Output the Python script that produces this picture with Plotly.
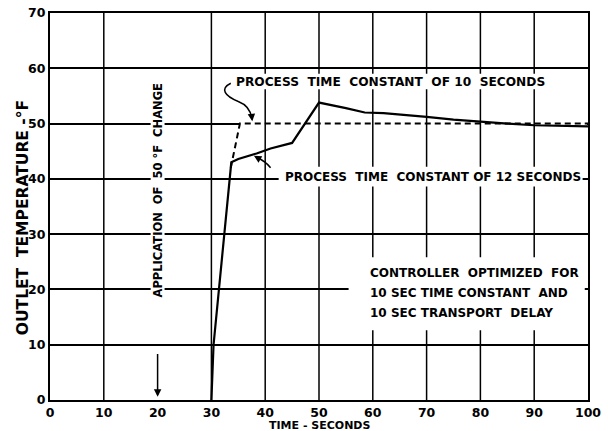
import plotly.graph_objects as go

# Antwort mit Zeitkonstante 12 s (durchgezogen)
time_12s = [30, 30.4, 33.7, 35, 38.4, 41, 45, 50, 55, 58.5, 62, 66, 70, 75, 80, 85, 90, 100]
temp_12s = [0, 10, 43, 43.6, 44.6, 45.5, 46.5, 53.8, 52.8, 52.0, 51.9, 51.6, 51.2, 50.7, 50.3, 50.0, 49.7, 49.5]

# Antwort mit Zeitkonstante 10 s (gestrichelt)
time_10s = [33.6, 35.3, 100]
temp_10s = [42, 50, 50]

x_ticks = [0, 10, 20, 30, 40, 50, 60, 70, 80, 90, 100]
y_ticks = [0, 10, 20, 30, 40, 50, 60, 70]
x_grid = [10, 30, 40, 50, 60, 70, 80, 90]

FONT = "DejaVu Sans"
fig = go.Figure()

fig.add_trace(go.Scatter(x=time_12s, y=temp_12s, mode="lines",
                         line=dict(color="black", width=2.2), showlegend=False))
fig.add_trace(go.Scatter(x=time_10s, y=temp_10s, mode="lines",
                         line=dict(color="black", width=2, dash="6px,4px"), showlegend=False))

# Gitterlinie bei 50 unter der gestrichelten Kurve ausblenden
fig.add_shape(type="rect", x0=time_10s[1], x1=99.8, y0=49.6, y1=50.4, xref="x", yref="y",
              fillcolor="white", line=dict(width=0), layer="between")

# vertikale Gitterlinien (ohne 20, dort steht der Text)
for gx in x_grid:
    fig.add_shape(type="line", x0=gx, x1=gx, y0=0, y1=70, xref="x", yref="y",
                  line=dict(color="black", width=1.5), layer="between")

# weisse Flaechen hinter den Beschriftungen
for x0, x1, y0, y1 in [(33.5, 99, 56.2, 59.0), (42.5, 99, 38.6, 42.2), (55.5, 99.4, 12.6, 25.8),
                       (18.7, 21.3, 19.5, 56.8)]:
    fig.add_shape(type="rect", x0=x0, x1=x1, y0=y0, y1=y1, xref="x", yref="y",
                  fillcolor="white", line=dict(width=0), layer="above")

txt = dict(color="black", family=FONT, size=12, weight="bold")
fig.add_annotation(x=34.2, y=57.6, text="PROCESS  TIME  CONSTANT  OF 10  SECONDS",
                   xanchor="left", yanchor="middle", showarrow=False,
                   font=dict(color="black", family=FONT, size=12.2, weight="bold"))
fig.add_annotation(x=43.3, y=40.4, text="PROCESS  TIME  CONSTANT OF 12 SECONDS",
                   xanchor="left", yanchor="middle", showarrow=False, font=txt)
for i, line in enumerate(["CONTROLLER  OPTIMIZED  FOR", "10 SEC TIME CONSTANT  AND",
                          "10 SEC TRANSPORT  DELAY"]):
    fig.add_annotation(x=59.1, y=22.9 - i * 3.6, text=line, xanchor="left", yanchor="middle",
                       showarrow=False, font=txt)
fig.add_annotation(x=20, y=38, text="APPLICATION  OF  50 °F  CHANGE", textangle=-90,
                   showarrow=False, font=dict(color="black", family=FONT, size=11.5, weight="bold"))

# Pfeile
fig.add_annotation(x=20, y=0.6, ax=20, ay=8.6, xref="x", yref="y", axref="x", ayref="y",
                   text="", showarrow=True, arrowhead=2, arrowsize=1, arrowwidth=1.5, arrowcolor="black")
fig.add_shape(type="path", path="M 33.6,57.3 C 31.5,56.3 32.5,55.0 35.0,54.0 C 36.6,53.4 37.3,52.4 37.5,51.0",
              line=dict(color="black", width=1.5), layer="above")
fig.add_annotation(x=37.6, y=50.4, ax=37.5, ay=51.2, xref="x", yref="y", axref="x", ayref="y",
                   text="", showarrow=True, arrowhead=2, arrowsize=1, arrowwidth=1.5, arrowcolor="black")
fig.add_shape(type="path", path="M 41.0,42.0 C 40.2,43.0 39.3,43.5 38.4,43.9",
              line=dict(color="black", width=1.5), layer="above")
fig.add_annotation(x=37.9, y=44.2, ax=38.6, ay=43.8, xref="x", yref="y", axref="x", ayref="y",
                   text="", showarrow=True, arrowhead=2, arrowsize=1, arrowwidth=1.5, arrowcolor="black")

# Achsentitel
fig.add_annotation(x=-0.05, y=0.47, xref="paper", yref="paper", text="OUTLET  TEMPERATURE -°F",
                   textangle=-90, showarrow=False, xanchor="center", yanchor="middle",
                   font=dict(color="black", family=FONT, size=15.5, weight="bold"))
fig.add_annotation(x=0.5, y=-0.065, xref="paper", yref="paper", text="TIME - SECONDS",
                   showarrow=False, xanchor="center", yanchor="middle",
                   font=dict(color="black", family=FONT, size=11, weight="bold"))

fig.update_xaxes(range=[0, 100], tickvals=x_ticks, ticktext=[str(v) for v in x_ticks],
                 showgrid=False, showline=True, mirror=True, linecolor="black", linewidth=2,
                 zeroline=False, ticks="", ticklabelstandoff=0, automargin=False,
                 tickfont=dict(color="black", family=FONT, size=12.5, weight="bold"))
fig.update_yaxes(range=[0, 70], tickvals=y_ticks, showgrid=True, gridcolor="black", gridwidth=1.5,
                 showline=True, mirror=True, linecolor="black", linewidth=2,
                 zeroline=False, ticks="", ticklabelstandoff=0, automargin=False,
                 tickfont=dict(color="black", family=FONT, size=12.5, weight="bold"))

fig.update_layout(
    width=608, height=431,
    margin=dict(l=50, r=20, t=13, b=31, autoexpand=False),
    plot_bgcolor="white", paper_bgcolor="white",
    showlegend=False,
)

# Seitenrand des Browsers entfernen
fig.write_html("out.html", config={"displayModeBar": False},
               post_script="document.body.style.margin='0';")
